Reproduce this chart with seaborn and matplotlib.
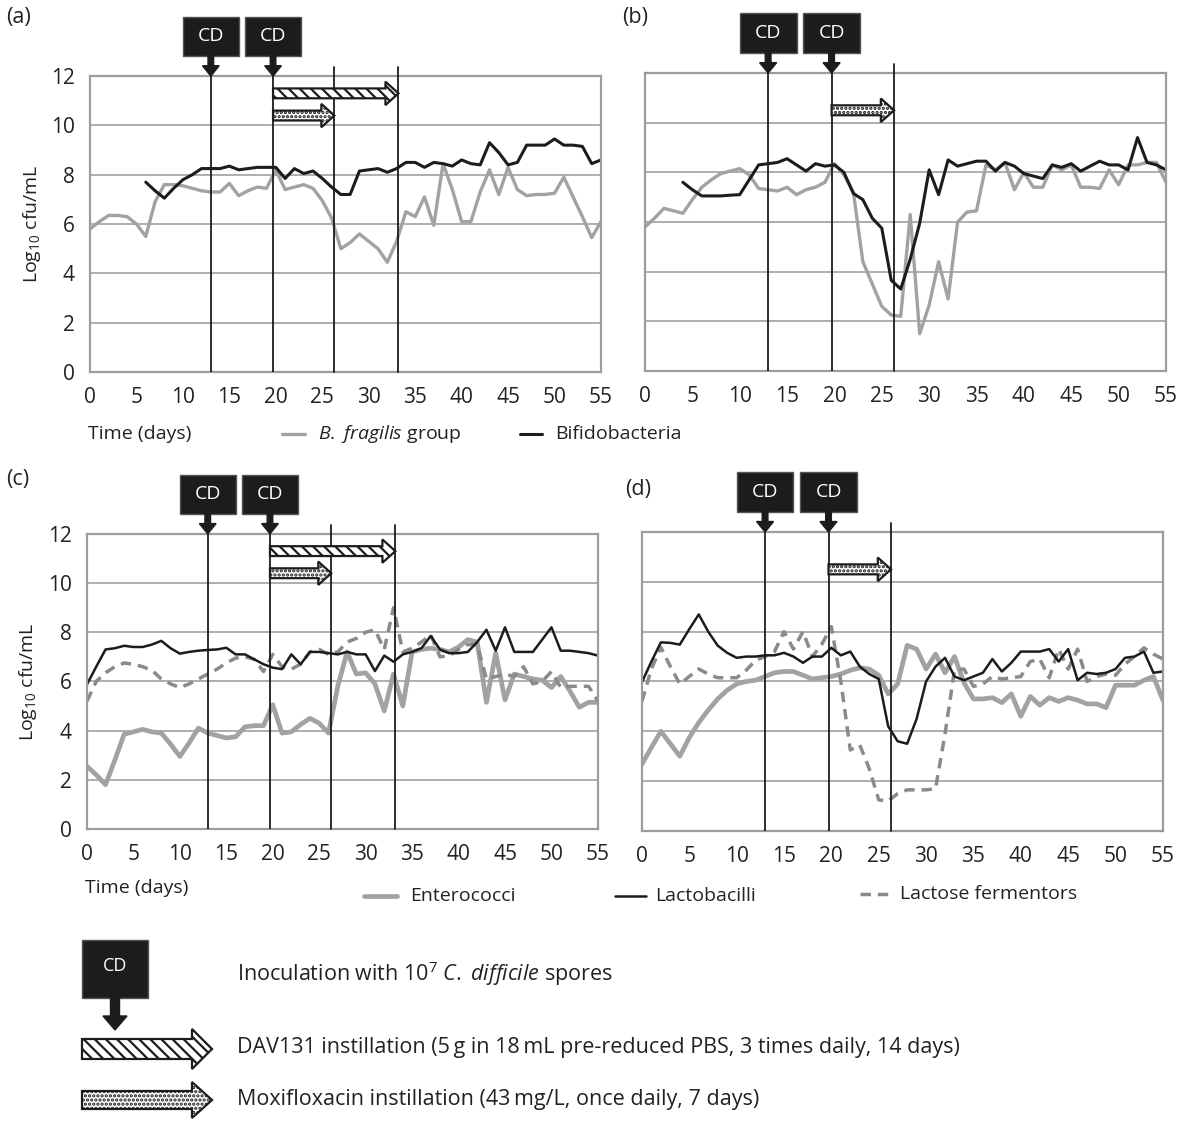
import numpy as np
import matplotlib
matplotlib.use("Agg")
import matplotlib.pyplot as plt
from matplotlib.patches import Rectangle, FancyArrow
from matplotlib.ticker import MultipleLocator
import seaborn as sns

nan = np.nan
days = list(range(56))

# panel (a)
bfrag_a = [5.8, 6.1, 6.35, 6.35, 6.3, 6.0, 5.5, 6.9, 7.6, 7.6, 7.55, 7.45, 7.35, 7.3, 7.3, 7.65,
           7.15, 7.35, 7.5, 7.45, 8.2, 7.4, 7.5, 7.6, 7.45, 6.95, 6.25, 5.0, 5.25, 5.6, 5.3, 5.0,
           4.45, 5.3, 6.5, 6.3, 7.1, 5.95, 8.45, 7.4, 6.1, 6.1, 7.3, 8.2, 7.2, 8.3, 7.4, 7.15,
           7.2, 7.2, 7.25, 7.9, 7.1, 6.3, 5.45, 6.1]
bifido_a = [nan] * 6 + [7.7, 7.35, 7.05, 7.45, 7.8, 8.0, 8.25, 8.25, 8.25, 8.35, 8.2, 8.25, 8.3, 8.3,
                        8.3, 7.85, 8.25, 8.05, 8.15, 7.85, 7.5, 7.2, 7.2, 8.15, 8.2, 8.25, 8.1, 8.25,
                        8.5, 8.5, 8.3, 8.5, 8.45, 8.35, 8.6, 8.45, 8.4, 9.3, 8.9, 8.4, 8.5, 9.2, 9.2,
                        9.2, 9.45, 9.2, 9.2, 9.15, 8.45, 8.6]

# panel (b)
bfrag_b = [5.8, 6.15, 6.55, 6.45, 6.35, 6.9, 7.4, 7.7, 7.95, 8.05, 8.15, 7.9, 7.35, 7.3, 7.25, 7.4,
           7.1, 7.3, 7.4, 7.6, 8.35, 7.9, 7.2, 4.4, 3.5, 2.6, 2.25, 2.2, 6.3, 1.5, 2.65, 4.4,
           2.9, 6.0, 6.4, 6.45, 8.3, 8.1, 8.4, 7.3, 8.0, 7.4, 7.4, 8.3, 8.1, 8.3, 7.4, 7.4,
           7.35, 8.1, 7.5, 8.3, 8.3, 8.4, 8.4, 7.6]
bifido_b = [nan] * 4 + [7.6, 7.3, 7.05, 7.05, 7.05, 7.08, 7.1, 7.7, 8.3, 8.35, 8.4, 8.55, 8.3, 8.05,
                        8.35, 8.25, 8.3, 8.0, 7.15, 6.9, 6.15, 5.75, 3.65, 3.3, 4.5, 5.95, 8.1, 7.1,
                        8.5, 8.25, 8.35, 8.45, 8.45, 8.05, 8.4, 8.25, 7.95, 7.85, 7.75, 8.3, 8.2,
                        8.35, 8.05, 8.25, 8.45, 8.3, 8.3, 8.1, 9.4, 8.4, 8.3, 8.1]

# panel (c)
entero_c = [2.55, 2.2, 1.8, 2.8, 3.85, 3.95, 4.05, 3.95, 3.9, 3.45, 2.95, 3.5, 4.1, 3.9, 3.8, 3.7,
            3.75, 4.15, 4.2, 4.2, 5.05, 3.9, 3.95, 4.25, 4.5, 4.3, 3.9, 5.8, 7.2, 6.3, 6.35, 5.9,
            4.8, 6.3, 5.0, 7.2, 7.3, 7.35, 7.3, 7.2, 7.4, 7.7, 7.6, 5.15, 7.15, 5.25, 6.3, 6.2,
            6.1, 6.05, 5.75, 6.2, 5.6, 4.95, 5.15, 5.15]
lacto_c = [5.88, 6.6, 7.3, 7.35, 7.45, 7.4, 7.4, 7.5, 7.65, 7.35, 7.13, 7.2, 7.25, 7.28, 7.3, 7.37,
           7.1, 7.1, 6.9, 6.7, 6.56, 6.5, 7.1, 6.7, 7.2, 7.2, 7.15, 7.1, 7.2, 7.1, 7.1, 6.42,
           7.05, 6.8, 7.1, 7.2, 7.35, 7.85, 7.3, 7.15, 7.15, 7.2, 7.6, 8.1, 7.25, 8.2, 7.2, 7.2,
           7.2, 7.7, 8.2, 7.25, 7.25, 7.2, 7.15, 7.05]
lactose_c = [5.2, 6.0, 6.35, 6.6, 6.75, 6.7, 6.6, 6.45, 6.1, 5.9, 5.75, 5.9, 6.1, 6.3, 6.5, 6.75,
             6.95, 7.0, 6.9, 6.4, 7.1, 6.6, 6.5, 6.7, 7.2, 7.3, 7.1, 7.2, 7.6, 7.75, 8.0, 8.1,
             7.3, 9.0, 7.2, 7.35, 7.6, 7.9, 7.0, 7.05, 7.3, 7.5, 7.5, 6.1, 6.2, 6.3, 6.2, 6.6,
             5.9, 6.0, 6.4, 5.75, 5.8, 5.8, 5.8, 5.2]

# panel (d)
entero_d = [2.68, 3.35, 4.0, 3.5, 3.0, 3.75, 4.35, 4.85, 5.3, 5.65, 5.9, 6.0, 6.05, 6.2, 6.35, 6.4,
            6.4, 6.25, 6.1, 6.15, 6.2, 6.3, 6.45, 6.55, 6.5, 6.25, 5.5, 5.9, 7.45, 7.3, 6.5, 7.1,
            6.35, 7.0, 5.95, 5.3, 5.3, 5.35, 5.15, 5.5, 4.6, 5.4, 5.05, 5.35, 5.2, 5.35, 5.25, 5.1,
            5.1, 4.95, 5.85, 5.85, 5.85, 6.05, 6.2, 5.25]
lacto_d = [5.97, 6.8, 7.57, 7.55, 7.48, 8.1, 8.69, 8.0, 7.44, 7.15, 6.95, 7.0, 7.0, 7.05, 7.05, 7.15,
           7.0, 6.75, 7.0, 7.0, 7.35, 7.05, 7.2, 6.6, 6.3, 6.1, 4.2, 3.6, 3.5, 4.5, 6.0, 6.6,
           6.95, 6.2, 6.05, 6.2, 6.35, 6.9, 6.4, 6.75, 7.2, 7.2, 7.2, 7.3, 6.8, 7.3, 6.05, 6.35,
           6.3, 6.35, 6.5, 6.95, 7.0, 7.2, 6.35, 6.4]
lactose_d = [5.2, 6.5, 7.37, 6.6, 5.9, 6.2, 6.5, 6.3, 6.15, 6.15, 6.15, 6.45, 6.85, 7.0, 7.2, 8.0,
             7.3, 8.0, 7.0, 7.5, 8.2, 6.0, 3.25, 3.45, 2.5, 1.25, 1.2, 1.5, 1.65, 1.65, 1.65, 1.7,
             3.9, 6.45, 6.5, 5.8, 5.9, 6.2, 6.1, 6.15, 6.2, 6.8, 6.9, 6.15, 7.3, 6.5, 7.3, 6.0,
             6.2, 6.3, 6.25, 6.7, 7.0, 7.35, 7.1, 6.9]

cd_days = [13, 19.7]
dav131_period = (19.7, 33.2)
moxi_period = (19.7, 26.3)

sns.set_style("white")
plt.rcParams['font.family'] = ['Open Sans', 'DejaVu Sans']
plt.rcParams['mathtext.fontset'] = 'custom'
plt.rcParams['mathtext.rm'] = 'Open Sans'
plt.rcParams['mathtext.it'] = 'Open Sans:italic'
plt.rcParams['hatch.linewidth'] = 1.6

BLACK = '#1c1c1c'
GREY = '#a2a2a2'
DGREY = '#8a8a8a'
AXC = '#9c9c9c'
TXT = '#222222'
FS = 14
KFS = 15.5

fig = plt.figure(figsize=(11.8, 11.24), dpi=100)

pos = {'a': [0.0763, 0.669, 0.433, 0.2633],
       'b': [0.5466, 0.670, 0.4415, 0.265],
       'c': [0.0737, 0.2625, 0.433, 0.2625],
       'd': [0.544, 0.2607, 0.4415, 0.266]}


def style_axes(ax, show_y):
    ax.set_xlim(0, 55)
    ax.set_ylim(0, 12)
    ax.xaxis.set_major_locator(MultipleLocator(5))
    ax.xaxis.set_minor_locator(MultipleLocator(1))
    ax.yaxis.set_major_locator(MultipleLocator(2))
    ax.grid(axis='y', color='#a8a8a8', lw=1.3)
    ax.set_axisbelow(True)
    for s in ax.spines.values():
        s.set_color(AXC)
        s.set_linewidth(1.6)
    ax.tick_params(axis='both', which='both', direction='out', color=AXC, width=1.2,
                   labelsize=FS + 1, labelcolor=TXT)
    ax.tick_params(axis='x', which='both', length=5, pad=6)
    ax.tick_params(axis='y', length=8, pad=3)
    if show_y:
        ax.set_ylabel('Log$_{10}$ cfu/mL', fontsize=FS, color=TXT, labelpad=6)
    else:
        ax.set_yticklabels([])
        ax.set_ylabel('')
    ax.set_xlabel('')


def draw_cd(ax, day):
    ax.add_patch(Rectangle((day - 3.0, 12.8), 6.0, 1.6, facecolor=BLACK, edgecolor='#555555',
                           lw=1, clip_on=False, zorder=5))
    ax.text(day, 13.62, 'CD', color='white', ha='center', va='center', fontsize=FS, zorder=6)
    ax.add_patch(FancyArrow(day, 12.85, 0, -0.85, width=0.6, head_width=1.8, head_length=0.42,
                            length_includes_head=True, color=BLACK, clip_on=False, zorder=5))


def draw_treat(ax, period, y, hatch):
    start, end = period
    ax.add_patch(FancyArrow(start, y, end - start, 0, width=0.4, head_width=0.95, head_length=1.4,
                            length_includes_head=True, facecolor='white', edgecolor=BLACK,
                            lw=1.6, hatch=hatch, clip_on=False, zorder=5))


def vlines(ax, xs_full, xs_tall):
    for x in xs_full:
        ax.plot([x, x], [0, 12], color=BLACK, lw=1.3, zorder=3)
    for x in xs_tall:
        ax.plot([x, x], [0, 12.35], color=BLACK, lw=1.3, zorder=3, clip_on=False)


# (a)
ax = fig.add_axes(pos['a'])
vlines(ax, cd_days, [moxi_period[1], dav131_period[1]])
sns.lineplot(x=days, y=bfrag_a, ax=ax, color=GREY, lw=2.4, legend=False)
sns.lineplot(x=days, y=bifido_a, ax=ax, color=BLACK, lw=2.2, legend=False)
style_axes(ax, True)
for d in cd_days:
    draw_cd(ax, d)
draw_treat(ax, dav131_period, 11.3, '\\\\\\')
draw_treat(ax, moxi_period, 10.4, '....')

# (b)
ax = fig.add_axes(pos['b'])
vlines(ax, cd_days, [moxi_period[1]])
sns.lineplot(x=days, y=bfrag_b, ax=ax, color=GREY, lw=2.4, legend=False)
sns.lineplot(x=days, y=bifido_b, ax=ax, color=BLACK, lw=2.2, legend=False)
style_axes(ax, False)
for d in cd_days:
    draw_cd(ax, d)
draw_treat(ax, moxi_period, 10.5, '....')

# (c)
ax = fig.add_axes(pos['c'])
vlines(ax, cd_days, [moxi_period[1], dav131_period[1]])
sns.lineplot(x=days, y=entero_c, ax=ax, color=GREY, lw=3.4, legend=False)
sns.lineplot(x=days, y=lactose_c, ax=ax, color=DGREY, lw=2.5, ls=(0, (3, 2)), legend=False)
sns.lineplot(x=days, y=lacto_c, ax=ax, color=BLACK, lw=1.8, legend=False)
style_axes(ax, True)
for d in cd_days:
    draw_cd(ax, d)
draw_treat(ax, dav131_period, 11.3, '\\\\\\')
draw_treat(ax, moxi_period, 10.4, '....')

# (d)
ax = fig.add_axes(pos['d'])
vlines(ax, cd_days, [moxi_period[1]])
sns.lineplot(x=days, y=entero_d, ax=ax, color=GREY, lw=3.4, legend=False)
sns.lineplot(x=days, y=lactose_d, ax=ax, color=DGREY, lw=2.5, ls=(0, (3, 2)), legend=False)
sns.lineplot(x=days, y=lacto_d, ax=ax, color=BLACK, lw=1.8, legend=False)
style_axes(ax, False)
for d in cd_days:
    draw_cd(ax, d)
draw_treat(ax, moxi_period, 10.5, '....')

# overlay for panel letters, legends and key (pixel coordinates)
key = fig.add_axes([0, 0, 1, 1])
key.set_xlim(0, 1180)
key.set_ylim(1124, 0)
key.axis('off')

for lab, (x, y) in {'(a)': (6, 18), '(b)': (622, 18), '(c)': (6, 480), '(d)': (625, 490)}.items():
    key.text(x, y, lab, fontsize=FS + 1.5, color=TXT, va='center')

# row 1 legend
key.text(88, 434, 'Time (days)', fontsize=FS, color=TXT, va='center')
key.plot([282, 305], [434, 434], color=GREY, lw=2.4)
key.text(318, 434, r'$\it{B.}$ $\it{fragilis}$ group', fontsize=FS, color=TXT, va='center')
key.plot([520, 542], [434, 434], color=BLACK, lw=2.2)
key.text(555, 434, 'Bifidobacteria', fontsize=FS, color=TXT, va='center')

# row 2 legend
key.text(85, 888, 'Time (days)', fontsize=FS, color=TXT, va='center')
key.plot([364, 397], [896, 896], color=GREY, lw=3.4)
key.text(410, 896, 'Enterococci', fontsize=FS, color=TXT, va='center')
key.plot([615, 646], [896, 896], color=BLACK, lw=1.8)
key.text(655, 896, 'Lactobacilli', fontsize=FS, color=TXT, va='center')
key.plot([860, 893], [894, 894], color=DGREY, lw=2.5, ls=(0, (3, 2)))
key.text(900, 894, 'Lactose fermentors', fontsize=FS, color=TXT, va='center')

# key for symbols
key.add_patch(Rectangle((82, 940), 66, 58, facecolor=BLACK, edgecolor='#555555', lw=1))
key.text(115, 966, 'CD', color='white', fontsize=FS - 1, ha='center', va='center')
key.add_patch(FancyArrow(115, 997, 0, 33, width=9, head_width=24, head_length=14,
                         length_includes_head=True, color=BLACK))
key.add_patch(FancyArrow(82, 1049, 130, 0, width=20, head_width=40, head_length=20,
                         length_includes_head=True, facecolor='white', edgecolor=BLACK,
                         lw=1.6, hatch='\\\\\\'))
key.add_patch(FancyArrow(82, 1100, 130, 0, width=18, head_width=36, head_length=20,
                         length_includes_head=True, facecolor='white', edgecolor=BLACK,
                         lw=1.6, hatch='....'))
key.text(237, 974, r'Inoculation with 10$^7$ $\it{C.}$ $\it{difficile}$ spores', fontsize=KFS,
         color=TXT, va='center')
key.text(237, 1048, 'DAV131 instillation (5\u2009g in 18\u2009mL pre-reduced PBS, 3 times daily, 14 days)',
         fontsize=KFS, color=TXT, va='center')
key.text(237, 1100, 'Moxifloxacin instillation (43\u2009mg/L, once daily, 7 days)', fontsize=KFS,
         color=TXT, va='center')

fig.savefig('out.png', dpi=100)
